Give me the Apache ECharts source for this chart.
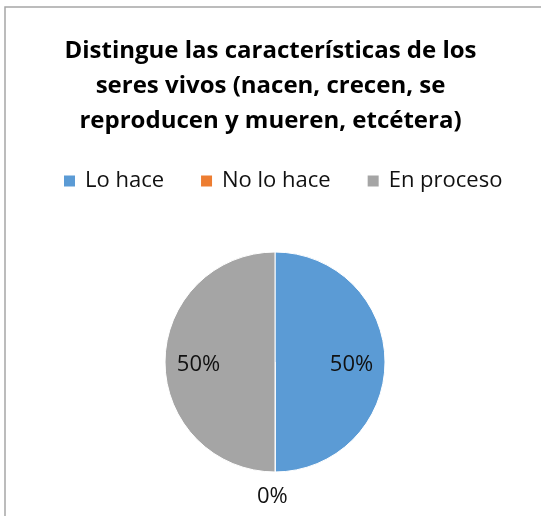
<!DOCTYPE html>
<html>
<head>
<meta charset="utf-8">
<script src="https://cdn.jsdelivr.net/npm/echarts@6/dist/echarts.min.js"></script>
<style>
  html, body { margin: 0; padding: 0; background: #fff; }
  #pieChart { width: 541px; height: 516px; }
</style>
</head>
<body>
<div id="pieChart"></div>
<script>
// datos del gráfico
const categories = ['Lo hace', 'No lo hace', 'En proceso'];
const values = [50, 0, 50];
const colors = ['#5b9bd5', '#ed7d31', '#a5a5a5'];
const titleText = 'Distingue las características de los\nseres vivos (nacen, crecen, se\nreproducen y mueren, etcétera)';

const font = '"Open Sans", Lato, sans-serif';
const center = [275, 362];

// pie visible: solo muestra la etiqueta de los valores 0 (afuera, abajo)
const baseData = categories.map((name, i) => ({
  name: name,
  value: values[i],
  label: { show: values[i] === 0 }
}));
// anillo invisible encima, solo para poner las etiquetas dentro más lejos del centro
const labelData = categories.map((name, i) => ({
  name: name,
  value: values[i],
  label: { show: values[i] !== 0 }
}));

const myChart = echarts.init(document.getElementById('pieChart'));
myChart.setOption({
  animation: false,
  color: colors,
  title: {
    text: titleText,
    left: 'center',
    top: 29,
    textStyle: {
      color: '#000',
      fontFamily: font,
      fontSize: 24,
      fontWeight: 'bold',
      lineHeight: 35,
      align: 'center'
    }
  },
  legend: {
    data: categories,
    top: 165,
    left: 57,
    icon: 'rect',
    itemWidth: 13,
    itemHeight: 13,
    itemGap: 35,
    textStyle: { color: '#111', fontFamily: font, fontSize: 22, padding: [0, 0, 0, 4] }
  },
  graphic: [{
    type: 'rect',
    shape: { x: 5, y: 7, width: 700, height: 700 },
    style: { fill: 'none', stroke: '#a6a6a6', lineWidth: 1.5 },
    silent: true
  }],
  series: [
    {
      name: 'base',
      type: 'pie',
      radius: [0, 110],
      center: center,
      startAngle: 90,
      silent: true,
      itemStyle: { borderColor: '#fff', borderWidth: 1 },
      label: {
        position: 'outside',
        formatter: '{d}%',
        color: '#111',
        fontFamily: font,
        fontSize: 22
      },
      labelLine: { show: false, length: 25, length2: 0 },
      labelLayout: { dx: -23 },
      data: baseData
    },
    {
      name: 'labels',
      type: 'pie',
      radius: [37, 110],
      center: center,
      startAngle: 90,
      silent: true,
      itemStyle: { color: 'rgba(0,0,0,0)', borderWidth: 0 },
      label: {
        position: 'inside',
        formatter: '{d}%',
        color: '#111',
        fontFamily: font,
        fontSize: 22
      },
      labelLine: { show: false },
      labelLayout: { dy: 3 },
      data: labelData
    }
  ]
});
</script>
</body>
</html>
